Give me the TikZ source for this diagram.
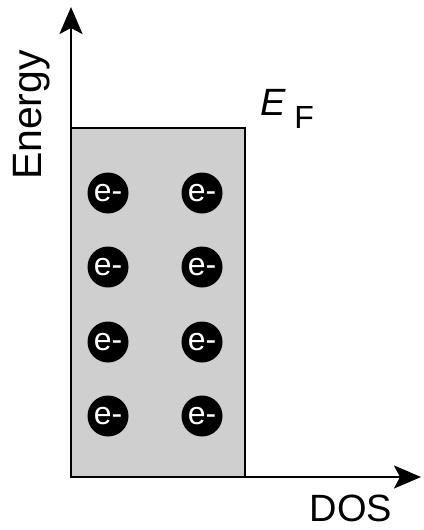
\documentclass[tikz,border=0pt]{standalone}
\usepackage{fontspec}
\setmainfont{Liberation Sans}
\usetikzlibrary{arrows.meta}
\definecolor{bandgray}{RGB}{207,207,207}
\begin{document}
\begin{tikzpicture}[x=1pt,y=-1pt,
  electron/.style={circle,fill=black,minimum size=41pt,inner sep=0pt,
    text=white,font=\fontsize{32}{32}\selectfont},
  axisline/.style={line width=2.6pt,-{Stealth[length=27pt,width=23pt,inset=6pt]}},
  label/.style={inner sep=0pt}]
  \useasboundingbox (0,0) rectangle (423,530);

  % filled states up to the Fermi level
  \draw[line width=2.6pt,fill=bandgray] (71,128) rectangle (245,477);

  % axes
  \coordinate (origin) at (71,477);
  \coordinate (ytip) at (71,7);
  \coordinate (xtip) at (421,477);
  \draw[axisline] (origin) -- (ytip);
  \draw[axisline] (origin) -- (xtip);

  % electrons
  \foreach \r/\y in {1/193,2/267,3/342,4/416}{
    \node[electron] (e\r a) at (108,\y) {e-};
    \node[electron] (e\r b) at (202,\y) {e-};
  }

  % labels
  \node[label,rotate=90,font=\fontsize{41}{41}\selectfont] (energy) at (32,115) {Energy};
  \node[label,font=\fontsize{38}{38}\selectfont] (dos) at (351,508) {DOS};
  \node[label,anchor=base west,font=\fontsize{38}{38}\selectfont] (ef) at (260,115)
    {\itshape E\fontsize{32}{32}\selectfont\upshape\raisebox{-13pt}{\;F}};
\end{tikzpicture}
\end{document}
